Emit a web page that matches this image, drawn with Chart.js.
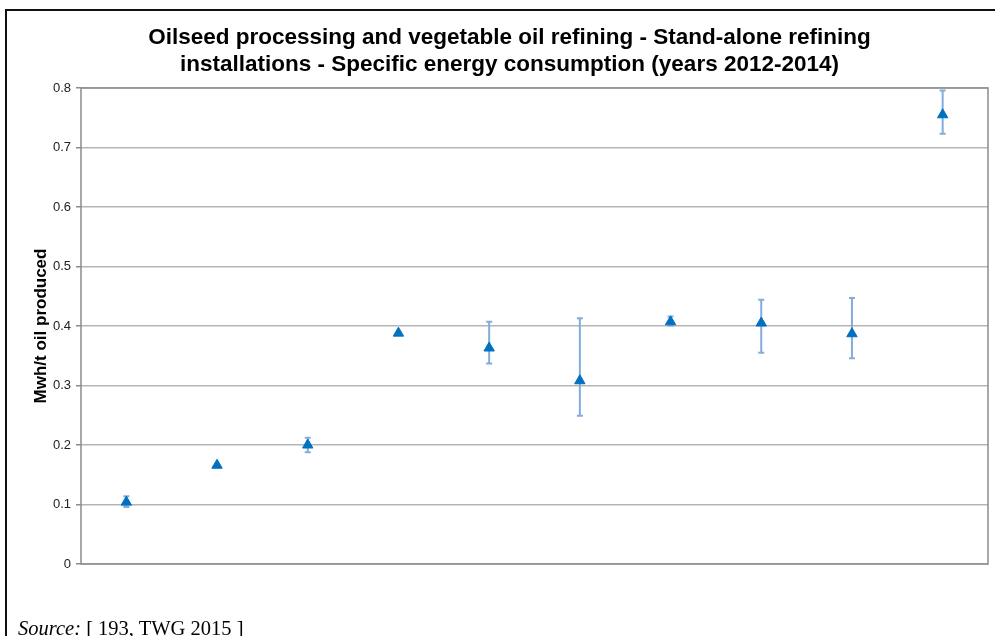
<!DOCTYPE html>
<html lang="en">
<head>
  <meta charset="UTF-8">
  <title>Specific energy consumption - stand-alone refining</title>
  <script src="https://cdn.jsdelivr.net/npm/chart.js"></script>
  <style>
    body {
      margin: 0;
      background: white;
      font-family: "Liberation Sans", Arial, sans-serif;
    }
    #wrap {
      position: relative;
      width: 995px;
      height: 636px;
      overflow: hidden;
    }
    #frame {
      position: absolute;
      left: 5px;
      top: 9px;
      width: 995px;
      height: 640px;
      border-left: 2px solid #111;
      border-top: 2px solid #111;
    }
    #source {
      position: absolute;
      left: 18px;
      top: 616px;
      line-height: 24px;
      font-family: "Liberation Serif", "Times New Roman", serif;
      font-size: 20.5px;
      color: black;
    }
    canvas {
      position: absolute;
      left: 0;
      top: 0;
    }
  </style>
</head>
<body>

<div id="wrap">
  <canvas id="energyChart" width="995" height="636"></canvas>
  <div id="frame"></div>
  <div id="source"><i>Source:</i> [ 193, TWG 2015 ]</div>
</div>

<script>
  // one point per installation (no labels shown on the x axis)
  const installations = ["1", "2", "3", "4", "5", "6", "7", "8", "9", "10"];
  const meanValues = [0.104, 0.166, 0.200, 0.388, 0.363, 0.308, 0.407, 0.405, 0.387, 0.755];
  const minValues  = [0.096, 0.166, 0.188, 0.388, 0.337, 0.249, 0.401, 0.355, 0.346, 0.723];
  const maxValues  = [0.114, 0.166, 0.212, 0.388, 0.407, 0.413, 0.416, 0.444, 0.447, 0.796];
  const yTicks = [0, 0.1, 0.2, 0.3, 0.4, 0.5, 0.6, 0.7, 0.8];

  // error bars (min / max) drawn under the markers
  const errorBars = {
    id: "errorBars",
    beforeDatasetsDraw(chart) {
      const c = chart.ctx;
      const xs = chart.scales.x;
      const ys = chart.scales.y;
      c.save();
      c.strokeStyle = "#82acdc";
      c.lineWidth = 2;
      for (let i = 0; i < meanValues.length; i++) {
        if (maxValues[i] - minValues[i] < 0.002) continue;
        const x = xs.getPixelForValue(i);
        const top = ys.getPixelForValue(maxValues[i]);
        const bot = ys.getPixelForValue(minValues[i]);
        c.beginPath();
        c.moveTo(x, top);
        c.lineTo(x, bot);
        c.moveTo(x - 3, top);
        c.lineTo(x + 3, top);
        c.moveTo(x - 3, bot);
        c.lineTo(x + 3, bot);
        c.stroke();
      }
      c.restore();
    },
    afterDraw(chart) {
      const a = chart.chartArea;
      const c = chart.ctx;
      c.save();
      c.strokeStyle = "#8c8c8c";
      c.lineWidth = 1.5;
      c.strokeRect(a.left, a.top, a.right - a.left, a.bottom - a.top);
      c.restore();
    }
  };

  const ctx = document.getElementById("energyChart").getContext("2d");
  new Chart(ctx, {
    type: "line",
    data: {
      labels: installations,
      datasets: [{
        data: meanValues,
        showLine: false,
        pointStyle: "triangle",
        pointRadius: 6,
        pointHoverRadius: 6,
        backgroundColor: "#0070c0",
        borderColor: "#0070c0",
        borderWidth: 1
      }]
    },
    options: {
      responsive: false,
      animation: false,
      layout: { padding: { left: 30, right: 6, top: 10, bottom: 72 } },
      plugins: {
        legend: { display: false },
        tooltip: { enabled: false },
        title: {
          display: true,
          text: [
            "Oilseed processing and vegetable oil refining - Stand-alone refining",
            "installations - Specific energy consumption (years 2012-2014)"
          ],
          color: "#000",
          font: { family: "Liberation Sans", size: 22.5, weight: "bold", lineHeight: 1.2 },
          padding: { top: 14, bottom: 10 }
        }
      },
      scales: {
        x: {
          type: "category",
          offset: true,
          display: false
        },
        y: {
          min: 0,
          max: 0.8,
          afterFit(scale) { scale.width = 51; },
          afterBuildTicks(scale) { scale.ticks = yTicks.map(v => ({ value: v })); },
          border: { display: false },
          grid: {
            color: "#b5b5b5",
            lineWidth: 1.5,
            tickLength: 5,
            tickColor: "#8c8c8c"
          },
          ticks: {
            color: "#222",
            padding: 5,
            font: { family: "Liberation Sans", size: 13 },
            callback: v => String(v)
          },
          title: {
            display: true,
            text: "Mwh/t oil produced",
            color: "#000",
            font: { family: "Liberation Sans", size: 17, weight: "bold" },
            padding: { top: 1, bottom: 0 }
          }
        }
      }
    },
    plugins: [errorBars]
  });
</script>

</body>
</html>
